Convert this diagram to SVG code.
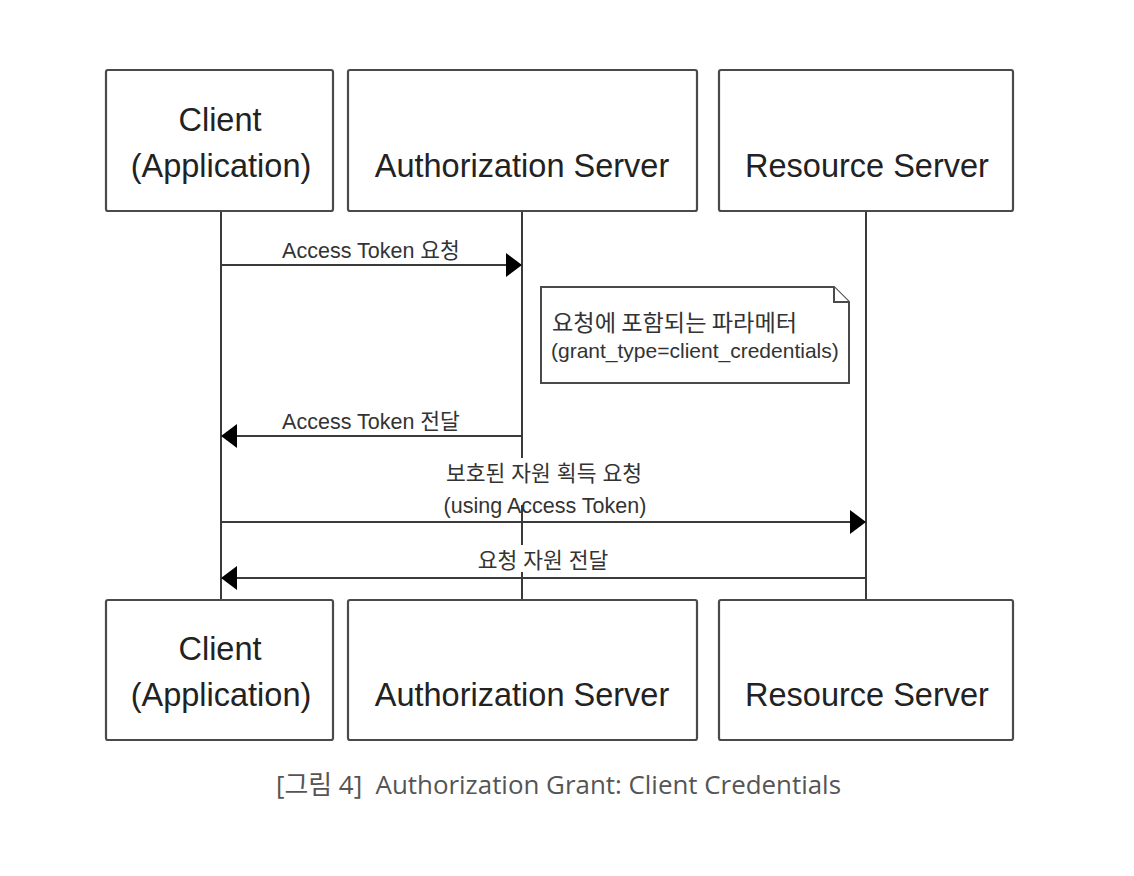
<svg xmlns="http://www.w3.org/2000/svg" width="1134" height="876" viewBox="0 0 1134 876">
<style>
.box{fill:#fff;stroke:#4a4a4a;stroke-width:2.2}
.big{font-family:"Liberation Sans",Arial,sans-serif;font-size:32.5px;fill:#222;text-anchor:middle}
.lbl{font-family:"Liberation Sans","Noto Sans CJK KR",sans-serif;font-size:21.5px;fill:#333;text-anchor:middle}
.life{stroke:#3a3a3a;stroke-width:2;fill:none}
.msg{stroke:#3a3a3a;stroke-width:2;fill:none}
.head{fill:#000}
.note{fill:#fff;stroke:#4a4a4a;stroke-width:2}
.cap{font-family:"Open Sans","Noto Sans CJK KR",sans-serif;font-size:26px;fill:#555}
</style>
<rect width="1134" height="876" fill="#fff"/>
<g id="connectors">
<line class="life" x1="221" y1="211" x2="221" y2="600"/>
<line class="life" x1="522" y1="211" x2="522" y2="458"/>
<line class="life" x1="522" y1="505" x2="522" y2="545"/>
<line class="life" x1="522" y1="572" x2="522" y2="600"/>
<line class="life" x1="866" y1="211" x2="866" y2="600"/>
<g id="msg1">
<line class="msg" x1="221" y1="265" x2="510" y2="265"/>
<polygon class="head" points="522,265 506,253 506,277"/>
<text class="lbl" x="371" y="258">Access Token 요청</text>
</g>
<g id="msg2">
<line class="msg" x1="233" y1="436" x2="522" y2="436"/>
<polygon class="head" points="221,436 237,424 237,448"/>
<text class="lbl" x="371" y="429">Access Token 전달</text>
</g>
<g id="msg3">
<line class="msg" x1="221" y1="522" x2="854" y2="522"/>
<polygon class="head" points="866,522 850,510 850,534"/>
<text class="lbl" x="544" y="481">보호된 자원 획득 요청</text>
<text class="lbl" x="545" y="513">(using Access Token)</text>
</g>
<g id="msg4">
<line class="msg" x1="233" y1="578" x2="866" y2="578"/>
<polygon class="head" points="221,578 237,566 237,590"/>
<text class="lbl" x="543" y="568">요청 자원 전달</text>
</g>
</g>
<g id="note">
<path class="note" d="M541,287 H834 L849,302 V383 H541 Z"/>
<path class="note" d="M834,287 V302 H849" fill="none"/>
<text x="552" y="331" style="font-family:'Noto Sans CJK KR',sans-serif;font-size:23.2px;fill:#333">요청에 포함되는 파라메터</text>
<text x="551" y="358" style="font-family:'Liberation Sans',Arial,sans-serif;font-size:21px;fill:#333">(grant_type=client_credentials)</text>
</g>
<g id="client-top">
<rect class="box" x="106" y="70" width="227" height="141" rx="2"/>
<text class="big" x="220" y="131">Client</text>
<text class="big" x="221" y="177">(Application)</text>
</g>
<g id="auth-top">
<rect class="box" x="348" y="70" width="349" height="141" rx="2"/>
<text class="big" x="522" y="177">Authorization Server</text>
</g>
<g id="resource-top">
<rect class="box" x="719" y="70" width="294" height="141" rx="2"/>
<text class="big" x="867" y="177">Resource Server</text>
</g>
<g id="client-bottom">
<rect class="box" x="106" y="600" width="227" height="140" rx="2"/>
<text class="big" x="220" y="660">Client</text>
<text class="big" x="221" y="706">(Application)</text>
</g>
<g id="auth-bottom">
<rect class="box" x="348" y="600" width="349" height="140" rx="2"/>
<text class="big" x="522" y="706">Authorization Server</text>
</g>
<g id="resource-bottom">
<rect class="box" x="719" y="600" width="294" height="140" rx="2"/>
<text class="big" x="867" y="706">Resource Server</text>
</g>
<text class="cap" x="276" y="794" textLength="565" lengthAdjust="spacingAndGlyphs">[그림 4]&#160; Authorization Grant: Client Credentials</text>
</svg>
